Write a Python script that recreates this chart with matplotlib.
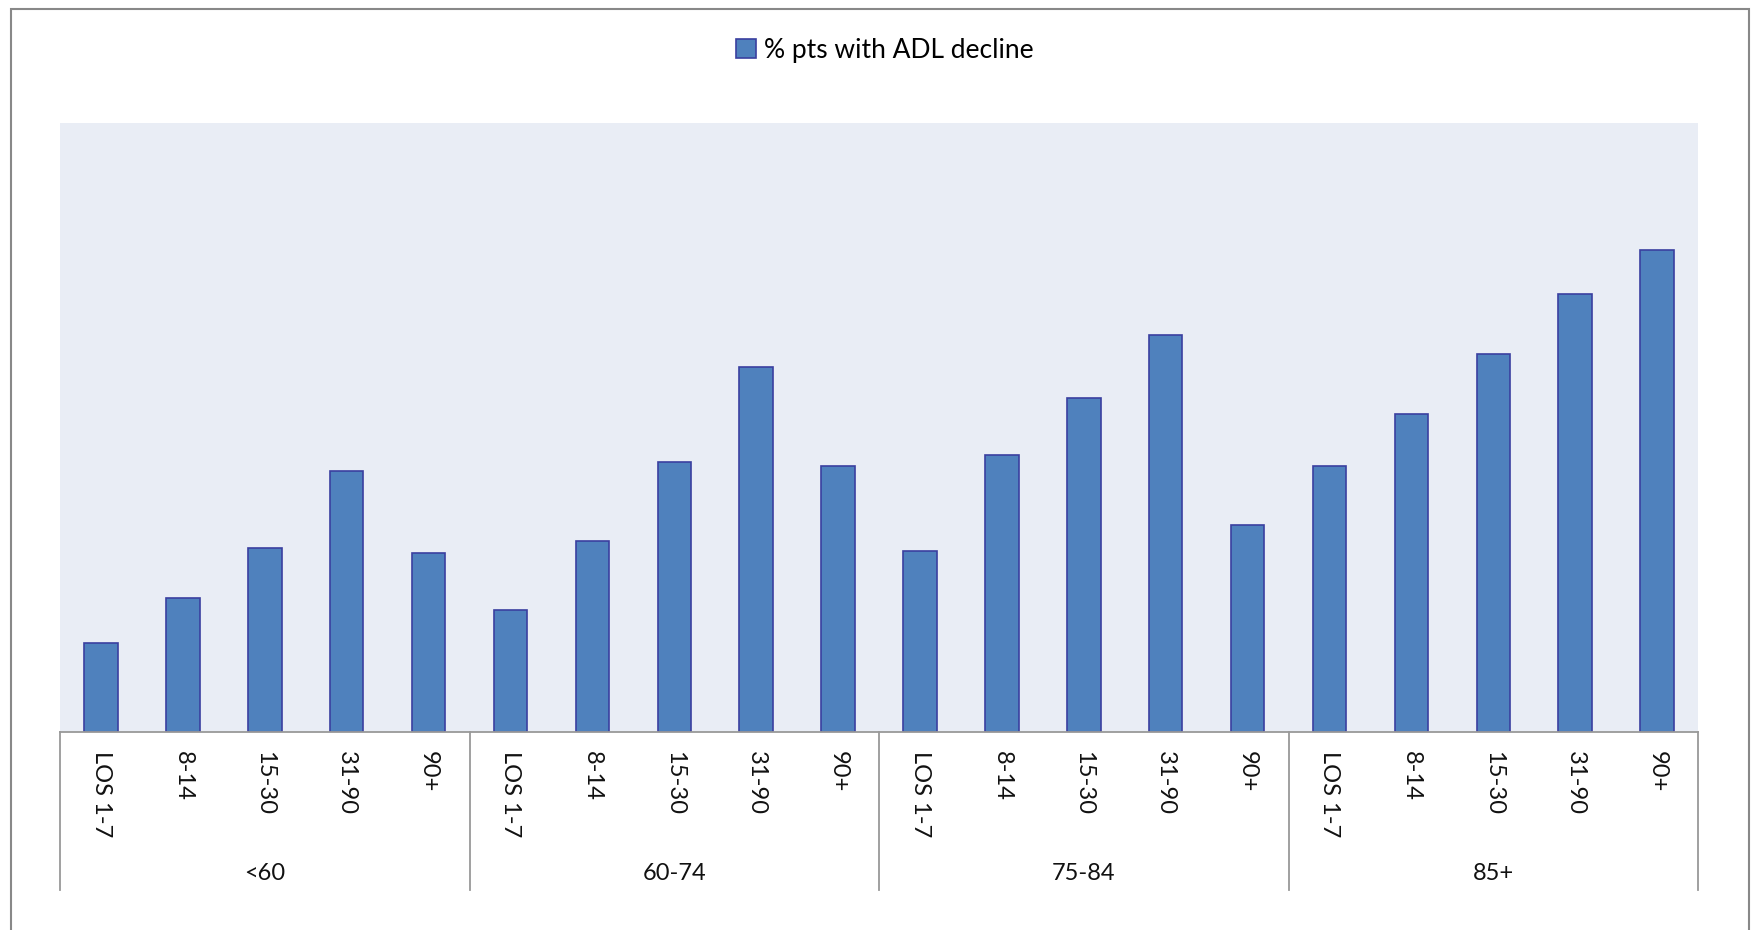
import matplotlib.pyplot as plt
from matplotlib.patches import Rectangle
import numpy as np

plt.rcParams['font.family'] = ['Lato', 'DejaVu Sans']

# data (no y axis shown, values in %)
groups = ['<60', '60-74', '75-84', '85+']
los_labels = ['LOS 1-7', '8-14', '15-30', '31-90', '90+']
decline_lt60 = [5.1, 7.7, 10.6, 15.0, 10.3]
decline_60_74 = [7.0, 11.0, 15.5, 21.0, 15.3]
decline_75_84 = [10.4, 15.9, 19.2, 22.8, 11.9]
decline_85p = [15.3, 18.3, 21.7, 25.2, 27.7]

values = decline_lt60 + decline_60_74 + decline_75_84 + decline_85p
labels = los_labels * len(groups)
x = np.arange(len(values))

fig = plt.figure(figsize=(17.56, 9.30), dpi=100)
ax = fig.add_axes([0.0342, 0.2129, 0.9328, 0.6548])
ax.set_facecolor('#E9EDF5')

ax.bar(x, values, width=0.41, color='#4F81BD', edgecolor='#3A3FA0',
       linewidth=1.2, label='% pts with ADL decline', zorder=2)

ax.set_xlim(-0.5, len(values) - 0.5)
ax.set_ylim(0, 35)
ax.set_yticks([])
ax.set_xticks(x)
ax.set_xticklabels(labels, rotation=270, fontsize=17, color='#111111')
ax.tick_params(axis='x', length=0, pad=14)
for s in ['top', 'left', 'right']:
    ax.spines[s].set_visible(False)
ax.spines['bottom'].set_color('#999999')
ax.spines['bottom'].set_linewidth(1.3)

# group separators and group labels under the axis
trans = ax.get_xaxis_transform()
n = len(los_labels)
for i in range(len(groups) + 1):
    xb = i * n - 0.5
    ax.plot([xb, xb], [0, -0.259], transform=trans, color='#999999',
            lw=1.3, clip_on=False)
for i, g in enumerate(groups):
    ax.text(i * n + (n - 1) / 2, -0.232, g, transform=trans, ha='center',
            va='center', fontsize=17, color='#111111')

fig.legend(loc='center', bbox_to_anchor=(0.504, 0.946), frameon=False,
           fontsize=19, handlelength=0.75, handleheight=0.75, handletextpad=0.3)

# outer chart frame
fig.patches.append(Rectangle((0.0063, -0.05), 0.9895, 1.04, transform=fig.transFigure,
                             fill=False, edgecolor='#888888', lw=1.5))

fig.savefig('out.png', dpi=100)
